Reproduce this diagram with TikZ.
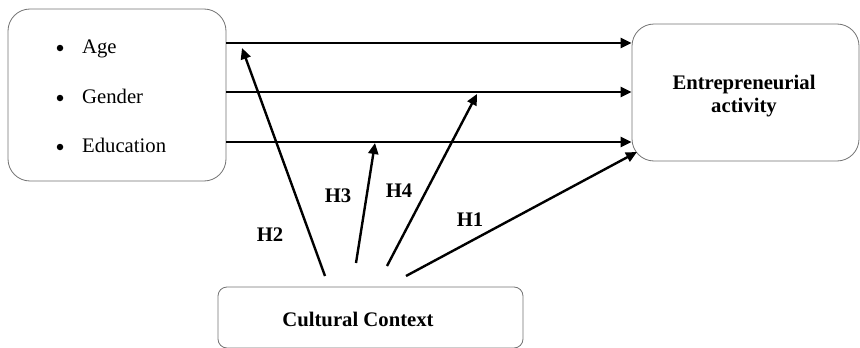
\documentclass[tikz,border=0pt]{standalone}
\usepackage{fontspec}
\setmainfont{Liberation Serif}
\usetikzlibrary{arrows.meta}
\begin{document}
\begin{tikzpicture}[x=1pt,y=-1pt,
  box/.style={draw=black!55, line width=0.8pt, fill=white, inner sep=0pt},
  conn/.style={line width=2.4pt, -{Triangle[length=11pt,width=10pt]}},
  lab/.style={font=\fontsize{20.7}{24}\selectfont\bfseries, anchor=base, inner sep=0pt},
  itemtxt/.style={font=\fontsize{20.7}{24}\selectfont, anchor=base west, inner sep=0pt},
  dot/.style={circle, fill=black, inner sep=0pt, minimum size=6.5pt}]
\useasboundingbox (0,0) rectangle (860,348);
% boxes
\node[box, rounded corners=22pt, minimum width=218pt, minimum height=172pt] (lb) at (117,95) {};
\node[box, rounded corners=22pt, minimum width=227pt, minimum height=137pt] (rb) at (745.5,92.5) {};
\node[box, rounded corners=9pt, minimum width=305pt, minimum height=61pt] (cb) at (370.5,317.5) {};
% left list
\node[dot] (b1) at (60,48) {};
\node[dot] (b2) at (60,98) {};
\node[dot] (b3) at (60,147) {};
\node[itemtxt] (t1) at (82,53) {Age};
\node[itemtxt] (t2) at (82,103) {Gender};
\node[itemtxt] (t3) at (82,152) {Education};
% right text
\node[lab] (e1) at (744,89) {Entrepreneurial};
\node[lab] (e2) at (744,112) {activity};
% bottom text
\node[lab] (cc) at (358,326) {Cultural Context};
% horizontal arrows
\draw[conn] (lb.east |- 0,43) -- (rb.west |- 0,43);
\draw[conn] (lb.east |- 0,92) -- (rb.west |- 0,92);
\draw[conn] (lb.east |- 0,142) -- (rb.west |- 0,142);
% diagonal arrows
\coordinate (h2s) at (325,276);
\coordinate (h2e) at (242,48);
\coordinate (h3s) at (356,263);
\coordinate (h3e) at (375,143);
\coordinate (h4s) at (387,266);
\coordinate (h4e) at (477,94);
\coordinate (h1s) at (406,276);
\coordinate (h1e) at (637,152);
\draw[conn] (h2s) -- (h2e);
\draw[conn] (h3s) -- (h3e);
\draw[conn] (h4s) -- (h4e);
\draw[conn] (h1s) -- (h1e);
% labels
\node[lab] (l2) at (270,241) {H2};
\node[lab] (l3) at (338,202) {H3};
\node[lab] (l4) at (399,197) {H4};
\node[lab] (l1) at (470,226) {H1};
\end{tikzpicture}
\end{document}
